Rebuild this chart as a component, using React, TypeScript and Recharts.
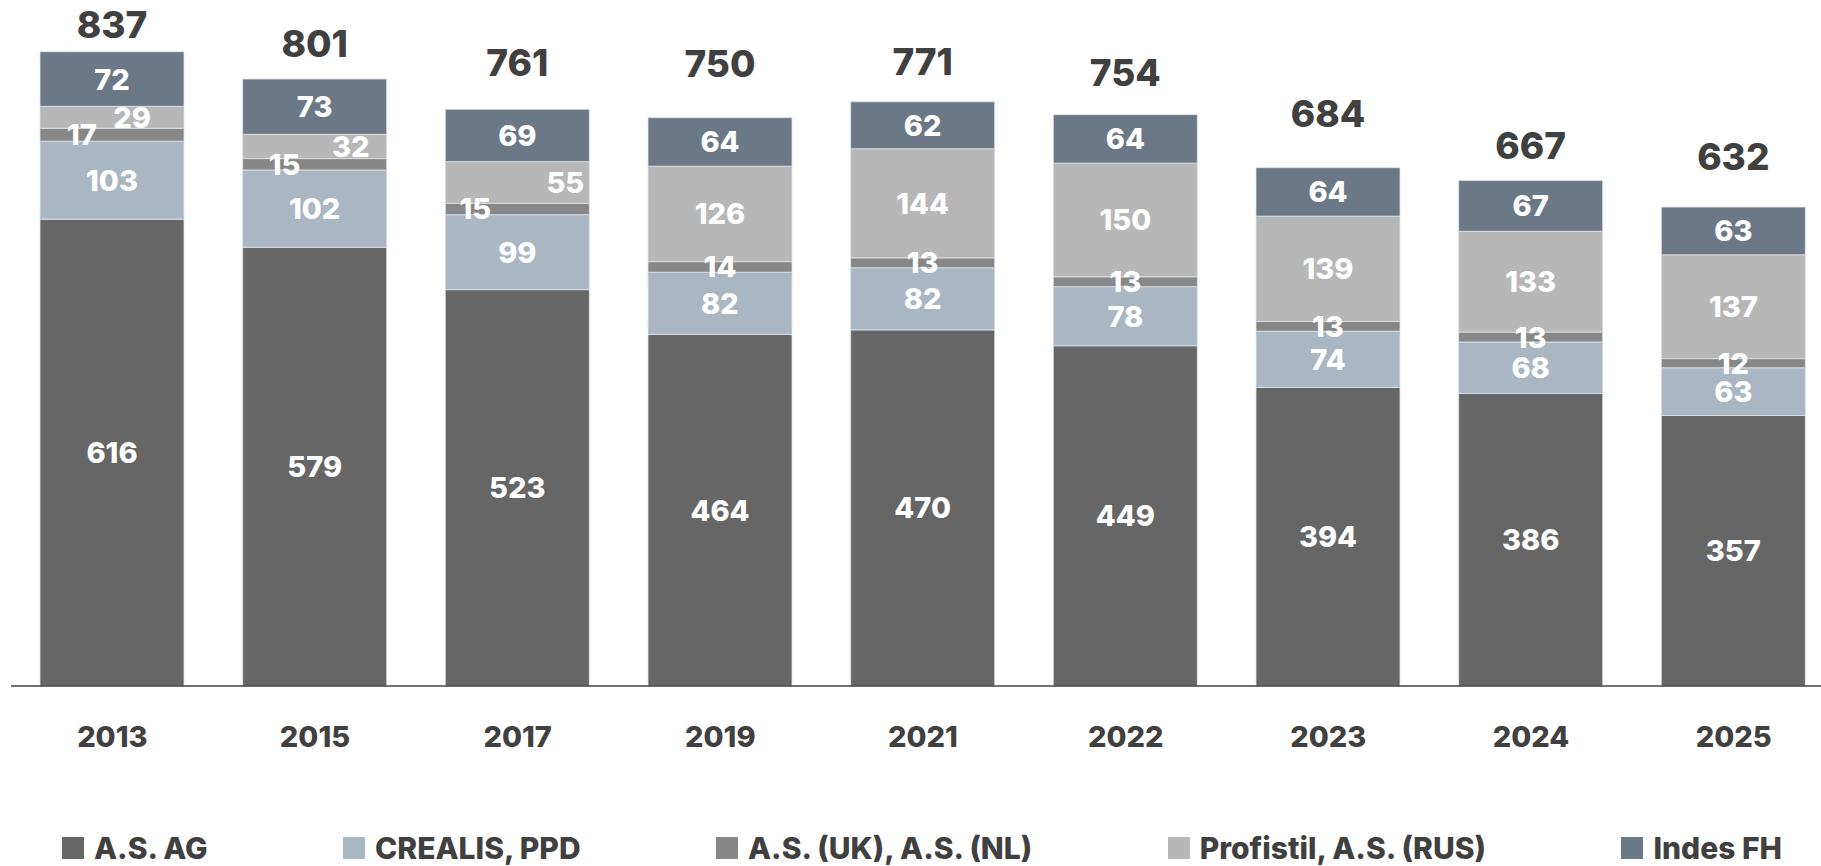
import { BarChart, Bar, XAxis, YAxis, Legend, LabelList } from "recharts";

const YEARS = ["2013", "2015", "2017", "2019", "2021", "2022", "2023", "2024", "2025"];
const AS_AG = [616, 579, 523, 464, 470, 449, 394, 386, 357];
const CREALIS_PPD = [103, 102, 99, 82, 82, 78, 74, 68, 63];
const AS_UK_NL = [17, 15, 15, 14, 13, 13, 13, 13, 12];
const PROFISTIL_RUS = [29, 32, 55, 126, 144, 150, 139, 133, 137];
const INDES_FH = [72, 73, 69, 64, 62, 64, 64, 67, 63];
const TOTALS = [837, 801, 761, 750, 771, 754, 684, 667, 632];

const FONT = "Inter, 'Open Sans', sans-serif";
const DARK = "#404040";

// label nudges so the thin segments' numbers don't collide
const UK_DX = [-30, -30, -42, 0, 0, 0, 0, 0, 0];
const PROFISTIL_DX = [20, 36, 48, 0, 0, 0, 0, 0, 0];
const TOTAL_GAP = [27, 36, 47, 54, 40, 42, 54, 35, 51];

const SERIES = [
  { key: "ag", name: "A.S. AG", color: "#666666", values: AS_AG, dx: [] as number[] },
  { key: "crealis", name: "CREALIS, PPD", color: "#a9b7c4", values: CREALIS_PPD, dx: [] as number[] },
  { key: "uk", name: "A.S. (UK), A.S. (NL)", color: "#878787", values: AS_UK_NL, dx: UK_DX },
  { key: "profistil", name: "Profistil, A.S. (RUS)", color: "#b7b7b7", values: PROFISTIL_RUS, dx: PROFISTIL_DX },
  { key: "indes", name: "Indes FH", color: "#6b7888", values: INDES_FH, dx: [] as number[] },
];

const data = YEARS.map((year, i) => {
  const row: Record<string, string | number> = { year, total: TOTALS[i] };
  SERIES.forEach((s) => {
    row[s.key] = s.values[i];
  });
  return row;
});

const innerLabel = (dxList: number[]) => (props: any) => {
  const { x, y, width, height, value, index } = props;
  const dx = dxList[index] ?? 0;
  return (
    <text
      x={Number(x) + Number(width) / 2 + dx}
      y={Number(y) + Number(height) / 2}
      textAnchor="middle"
      dominantBaseline="central"
      fill="#ffffff"
      fontFamily={FONT}
      fontWeight={800}
      fontSize={29}
    >
      {value}
    </text>
  );
};

const totalLabel = (props: any) => {
  const { x, y, width, index } = props;
  return (
    <text
      x={Number(x) + Number(width) / 2}
      y={Number(y) - TOTAL_GAP[index]}
      textAnchor="middle"
      dominantBaseline="central"
      fill={DARK}
      fontFamily={FONT}
      fontWeight={800}
      fontSize={37}
    >
      {TOTALS[index]}
    </text>
  );
};

const renderLegend = () => (
  <div
    style={{
      height: 36,
      display: "flex",
      alignItems: "center",
      justifyContent: "space-between",
      paddingLeft: 62,
      paddingRight: 39,
      boxSizing: "border-box",
      fontFamily: FONT,
      fontWeight: 800,
      fontSize: 30,
      color: DARK,
    }}
  >
    {SERIES.map((s) => (
      <div key={s.key} style={{ display: "flex", alignItems: "center" }}>
        <span
          style={{
            width: 22,
            height: 22,
            background: s.color,
            display: "inline-block",
            marginRight: 10,
          }}
        />
        <span style={{ whiteSpace: "nowrap" }}>{s.name}</span>
      </div>
    ))}
  </div>
);

export default function App() {
  return (
    <div
      style={{
        position: "absolute",
        left: 0,
        top: 0,
        width: 1821,
        height: 866,
        overflow: "hidden",
        background: "#ffffff",
        fontFamily: FONT,
      }}
    >
      <BarChart
        width={1835}
        height={866}
        data={data}
        margin={{ top: 4, right: 0, left: 11, bottom: 0 }}
      >
        <XAxis
          dataKey="year"
          axisLine={{ stroke: DARK, strokeWidth: 1.5 }}
          tickLine={false}
          tickSize={0}
          tickMargin={40}
          height={144}
          interval={0}
          tick={{ fill: DARK, fontSize: 29, fontWeight: 800, fontFamily: FONT }}
        />
        <YAxis hide domain={[0, 900]} />
        <Legend
          verticalAlign="bottom"
          content={renderLegend}
          wrapperStyle={{ left: 0, width: 1821, bottom: 0 }}
        />
        {SERIES.map((s, si) => (
          <Bar
            key={s.key}
            dataKey={s.key}
            name={s.name}
            stackId="a"
            fill={s.color}
            barSize={144}
            stroke="#dfe2e6"
            strokeWidth={0.8}
            isAnimationActive={false}
          >
            <LabelList dataKey={s.key} content={innerLabel(s.dx)} />
            {si === SERIES.length - 1 && (
              <LabelList dataKey="total" content={totalLabel} />
            )}
          </Bar>
        ))}
      </BarChart>
    </div>
  );
}
